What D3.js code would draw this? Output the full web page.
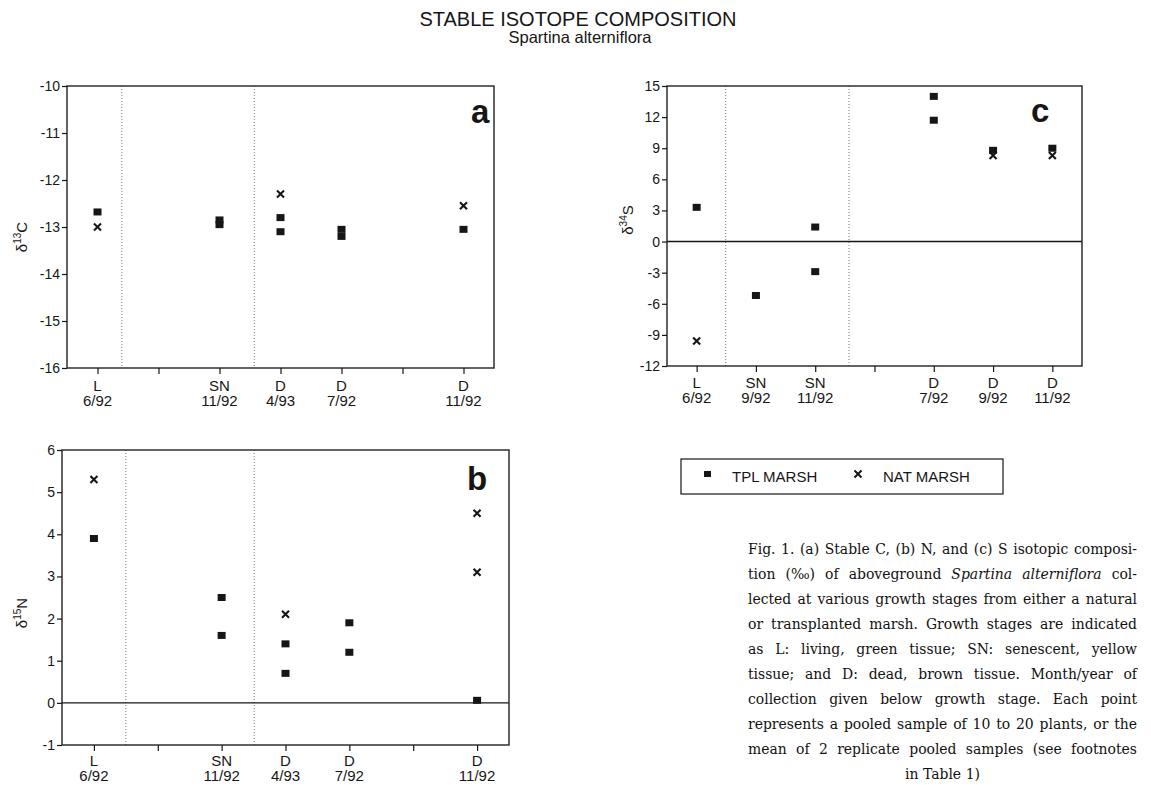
<!DOCTYPE html>
<html>
<head>
<meta charset="utf-8">
<script src="https://cdn.jsdelivr.net/npm/d3@7"></script>
<style>
  body { margin: 0; background: #fff; }
  svg { display: block; font-family: "Liberation Sans", Arial, sans-serif; }
</style>
</head>
<body>
<svg id="fig" width="1151" height="785"></svg>
<script>
// x slots: stage / month-year of collection
const stagesAB = ["L", "", "SN", "D", "D", "", "D"];
const datesAB = ["6/92", "", "11/92", "4/93", "7/92", "", "11/92"];
const stagesC = ["L", "SN", "SN", "", "D", "D", "D"];
const datesC = ["6/92", "9/92", "11/92", "", "7/92", "9/92", "11/92"];

// [slot index, value]
const tplC13 = [[0, -12.68], [2, -12.85], [2, -12.95], [3, -12.8], [3, -13.1], [4, -13.05], [4, -13.2], [6, -13.05]];
const natC13 = [[0, -13.0], [3, -12.3], [6, -12.55]];
const tplN15 = [[0, 3.9], [2, 2.5], [2, 1.6], [3, 1.4], [3, 0.7], [4, 1.9], [4, 1.2], [6, 0.06]];
const natN15 = [[0, 5.3], [3, 2.1], [6, 4.5], [6, 3.1]];
const tplS34 = [[0, 3.3], [1, -5.2], [2, 1.4], [2, -2.9], [4, 14.0], [4, 11.7], [5, 8.8], [6, 9.0]];
const natS34 = [[0, -9.6], [5, 8.3], [6, 8.3]];

const ticksC13 = [-10, -11, -12, -13, -14, -15, -16];
const ticksN15 = [6, 5, 4, 3, 2, 1, 0, -1];
const ticksS34 = [15, 12, 9, 6, 3, 0, -3, -6, -9, -12];

const captionLines = [
    "Fig. 1. (a) Stable C, (b) N, and (c) S isotopic composi-",
    "tion (‰) of aboveground Spartina alterniflora col-",
    "lected at various growth stages from either a natural",
    "or transplanted marsh. Growth stages are indicated",
    "as L: living, green tissue; SN: senescent, yellow",
    "tissue; and D: dead, brown tissue. Month/year of",
    "collection given below growth stage. Each point",
    "represents a pooled sample of 10 to 20 plants, or the",
    "mean of 2 replicate pooled samples (see footnotes",
    "in Table 1)"
];
const italicWords = ["Spartina", "alterniflora"];

const ink = "#161616";
const svg = d3.select("#fig");

// title
svg.append("text")
    .attr("x", 578).attr("y", 26)
    .attr("text-anchor", "middle")
    .style("font-size", "20px")
    .attr("fill", ink)
    .text("STABLE ISOTOPE COMPOSITION");
svg.append("text")
    .attr("x", 580).attr("y", 43)
    .attr("text-anchor", "middle")
    .style("font-size", "16.5px")
    .attr("fill", ink)
    .text("Spartina alterniflora");

function drawPanel(p) {
    const x = d3.scalePoint()
        .domain(d3.range(p.stages.length))
        .range([p.left, p.right])
        .padding(0.5);
    const step = x.step();

    const y = d3.scaleLinear()
        .domain([p.ticks[p.ticks.length - 1], p.ticks[0]])
        .range([p.bottom, p.top]);

    const g = svg.append("g");

    // dotted stage dividers
    p.dividers.forEach(d => {
        g.append("line")
            .attr("x1", x(0) + d * step).attr("x2", x(0) + d * step)
            .attr("y1", p.top).attr("y2", p.bottom)
            .attr("stroke", "#777")
            .attr("stroke-width", 1)
            .attr("stroke-dasharray", "1,2");
    });

    // zero line
    if (y.domain()[0] < 0 && y.domain()[1] > 0) {
        g.append("line")
            .attr("x1", p.left).attr("x2", p.right)
            .attr("y1", y(0)).attr("y2", y(0))
            .attr("stroke", ink)
            .attr("stroke-width", 1.4);
    }

    // frame
    g.append("rect")
        .attr("x", p.left).attr("y", p.top)
        .attr("width", p.right - p.left).attr("height", p.bottom - p.top)
        .attr("fill", "none")
        .attr("stroke", "#222")
        .attr("stroke-width", 1.4);

    // y axis
    const ya = g.append("g")
        .attr("transform", `translate(${p.left},0)`)
        .call(d3.axisLeft(y).tickValues(p.ticks).tickSize(5).tickPadding(2).tickFormat(d => String(d)));
    ya.select(".domain").remove();
    ya.selectAll("line").attr("stroke", ink).attr("stroke-width", 1.2);
    ya.selectAll("text")
        .style("font-size", "14px")
        .style("font-family", "'Liberation Sans', Arial, sans-serif")
        .attr("fill", ink);

    // x axis
    const xa = g.append("g")
        .attr("transform", `translate(0,${p.bottom})`)
        .call(d3.axisBottom(x).tickSize(6).tickFormat(""));
    xa.select(".domain").remove();
    xa.selectAll("line").attr("stroke", ink).attr("stroke-width", 1.2);

    // two-line category labels
    const lab = g.selectAll(".cat")
        .data(p.stages.map((s, i) => ({ i, s, d: p.dates[i] })))
        .enter().append("g")
        .attr("transform", d => `translate(${x(d.i)},${p.bottom})`);
    lab.append("text")
        .attr("y", p.labelY[0])
        .attr("text-anchor", "middle")
        .style("font-size", "15px")
        .attr("fill", ink)
        .text(d => d.s);
    lab.append("text")
        .attr("y", p.labelY[1])
        .attr("text-anchor", "middle")
        .style("font-size", "15px")
        .attr("fill", ink)
        .text(d => d.d);

    // y axis title: delta + superscript isotope
    const yt = g.append("text")
        .attr("transform", `translate(${p.titleX},${p.titleY}) rotate(-90)`)
        .attr("text-anchor", "middle")
        .style("font-size", "15px")
        .attr("fill", ink);
    yt.append("tspan").text("δ");
    yt.append("tspan").attr("dy", -6).style("font-size", "10px").text(p.iso);
    yt.append("tspan").attr("dy", 6).text(p.elem);

    // panel letter
    g.append("text")
        .attr("x", p.letterX).attr("y", p.letterY)
        .style("font-size", "33px")
        .style("font-weight", "bold")
        .attr("fill", ink)
        .text(p.letter);

    // TPL marsh: filled squares
    g.selectAll(".tpl")
        .data(p.tpl)
        .enter().append("rect")
        .attr("x", d => x(d[0]) - 4)
        .attr("y", d => y(d[1]) - 3.5)
        .attr("width", 8).attr("height", 7)
        .attr("fill", ink);

    // NAT marsh: crosses
    g.selectAll(".nat")
        .data(p.nat)
        .enter().append("path")
        .attr("transform", d => `translate(${x(d[0])},${y(d[1])})`)
        .attr("d", "M-3.5,-3.5L3.5,3.5M-3.5,3.5L3.5,-3.5")
        .attr("stroke", ink)
        .attr("stroke-width", 2.1)
        .attr("fill", "none");
}

drawPanel({
    left: 67, right: 494, top: 86, bottom: 368,
    stages: stagesAB, dates: datesAB, ticks: ticksC13,
    tpl: tplC13, nat: natC13, dividers: [0.4, 2.57],
    labelY: [23, 38], titleX: 27, titleY: 237, iso: "13", elem: "C",
    letter: "a", letterX: 471, letterY: 123
});
drawPanel({
    left: 62, right: 509, top: 450, bottom: 745,
    stages: stagesAB, dates: datesAB, ticks: ticksN15,
    tpl: tplN15, nat: natN15, dividers: [0.5, 2.51],
    labelY: [21, 36], titleX: 27, titleY: 613, iso: "15", elem: "N",
    letter: "b", letterX: 467, letterY: 490
});
drawPanel({
    left: 667, right: 1082, top: 86, bottom: 366,
    stages: stagesC, dates: datesC, ticks: ticksS34,
    tpl: tplS34, nat: natS34, dividers: [0.49, 2.57],
    labelY: [22, 37], titleX: 633, titleY: 220, iso: "34", elem: "S",
    letter: "c", letterX: 1031, letterY: 122
});

// legend
const leg = svg.append("g");
leg.append("rect")
    .attr("x", 681).attr("y", 459)
    .attr("width", 322).attr("height", 35)
    .attr("fill", "none")
    .attr("stroke", ink)
    .attr("stroke-width", 1.2);
leg.append("rect")
    .attr("x", 704).attr("y", 471)
    .attr("width", 7).attr("height", 6)
    .attr("fill", ink);
leg.append("text")
    .attr("x", 732).attr("y", 482)
    .style("font-size", "15px")
    .attr("fill", ink)
    .text("TPL MARSH");
leg.append("path")
    .attr("transform", "translate(858,474)")
    .attr("d", "M-3.5,-3.5L3.5,3.5M-3.5,3.5L3.5,-3.5")
    .attr("stroke", ink)
    .attr("stroke-width", 2)
    .attr("fill", "none");
leg.append("text")
    .attr("x", 883).attr("y", 482)
    .style("font-size", "15px")
    .attr("fill", ink)
    .text("NAT MARSH");

// caption, justified word by word, font shrunk until the widest line fits
const capLeft = 748, capRight = 1137, capTop = 554, capStep = 25;
const cap = svg.append("g")
    .style("font-family", "'DejaVu Serif Condensed', 'DejaVu Serif', serif")
    .style("font-stretch", "condensed")
    .attr("fill", "#111");

let capSize = 15.5;
cap.style("font-size", capSize + "px");
const rows = captionLines.map((line, li) => {
    const words = line.split(" ");
    const nodes = words.map(w => cap.append("text")
        .attr("y", capTop + li * capStep)
        .style("font-style", italicWords.includes(w) ? "italic" : "normal")
        .text(w));
    return { words, nodes };
});
const natural = rows.map(r => d3.sum(r.nodes, n => n.node().getComputedTextLength()));
const fit = d3.min(rows, (r, i) => (capRight - capLeft - 3.5 * (r.words.length - 1)) / natural[i]);
if (fit < 1) {
    capSize = capSize * fit;
    cap.style("font-size", capSize + "px");
}

rows.forEach((r, li) => {
    const widths = r.nodes.map(n => n.node().getComputedTextLength());
    const total = d3.sum(widths);
    if (li === rows.length - 1) {
        const sp = capSize * 0.3;
        let cx = (capLeft + capRight) / 2 - (total + sp * (r.words.length - 1)) / 2;
        r.nodes.forEach((n, i) => { n.attr("x", cx); cx += widths[i] + sp; });
    } else {
        const gap = (capRight - capLeft - total) / (r.words.length - 1);
        let cx = capLeft;
        r.nodes.forEach((n, i) => { n.attr("x", cx); cx += widths[i] + gap; });
    }
});
</script>
</body>
</html>
